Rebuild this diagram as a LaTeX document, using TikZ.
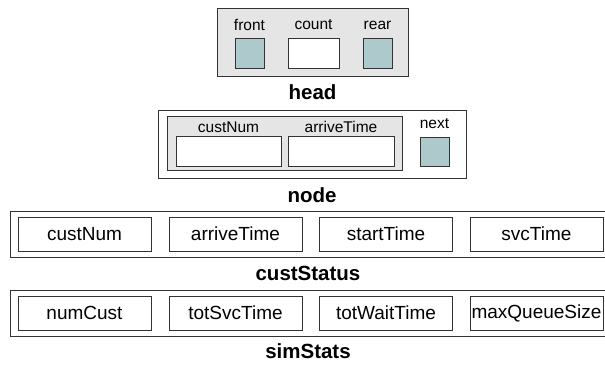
\documentclass[tikz,border=0pt]{standalone}
\usepackage{fontspec}
\setmainfont{Liberation Sans}
\usepackage{xcolor}
\usepackage{tikz}
\usetikzlibrary{positioning}

\definecolor{panelgray}{HTML}{E5E5E5}
\definecolor{ptrfill}{HTML}{ADC9CB}
\definecolor{edgegray}{HTML}{333333}

\begin{document}
\begin{tikzpicture}[
    x=1pt, y=-1pt,
    font=\fontsize{15.5}{17}\selectfont,
    field/.style={draw=edgegray, line width=1pt, inner sep=0pt, minimum width=#1, minimum height=30pt, fill=white},
    ptr/.style={field=29pt, fill=ptrfill},
    panel/.style={draw=edgegray, line width=1pt, inner sep=0pt, fill=#1},
    cell/.style={draw=edgegray, line width=1pt, inner sep=0pt, minimum width=133pt, minimum height=34pt, font=\fontsize{19}{21}\selectfont},
    lbl/.style={inner sep=0pt},
    title/.style={inner sep=0pt, font=\fontsize{20.5}{22}\selectfont\bfseries}
  ]
  \useasboundingbox (0,0) rectangle (605,365);
  % head
  \node[panel=panelgray, minimum width=191pt, minimum height=68pt] (head) at (312.5,42) {};
  \node[ptr] (front) at (249.5,53) {};
  \node[field=51pt] (count) at (313.5,53) {};
  \node[ptr] (rear) at (377.5,53) {};
  \node[lbl] (frontlbl) at (249.5,25) {front};
  \node[lbl] (countlbl) at (313.5,25) {count};
  \node[lbl] (rearlbl) at (377.5,25) {rear};
  \node[title] (headname) at (312.5,92) {head};
  % node
  \node[panel=white, minimum width=308pt, minimum height=68pt] (qnode) at (312,144) {};
  \node[panel=panelgray, minimum width=235pt, minimum height=54pt] (item) at (284.5,143) {};
  \node[field=105pt] (ncust) at (228.5,151) {};
  \node[field=106pt] (narrive) at (341,151) {};
  \node[ptr, minimum height=29pt] (next) at (434.5,151.5) {};
  \node[lbl] (ncustlbl) at (228.5,127) {custNum};
  \node[lbl] (narrivelbl) at (341,127) {arriveTime};
  \node[lbl] (nextlbl) at (434.5,124) {next};
  \node[title] (nodename) at (312,195) {node};
  % custStatus
  \node[panel=white, minimum width=602pt, minimum height=46pt] (status) at (311,234) {};
  \node[cell] (cust) at (84.5,234) {custNum};
  \node[cell] (arrive) at (235.5,234) {arriveTime};
  \node[cell] (start) at (386,234) {startTime};
  \node[cell] (svc) at (536.5,234) {svcTime};
  \node[title] (statusname) at (308,273) {custStatus};
  % simStats
  \node[panel=white, minimum width=602pt, minimum height=46pt] (stats) at (311,313) {};
  \node[cell] (num) at (84.5,313) {numCust};
  \node[cell] (totsvc) at (235.5,313) {totSvcTime};
  \node[cell] (totwait) at (386,313) {totWaitTime};
  \node[cell] (maxq) at (536.5,313) {maxQueueSize};
  \node[title] (statsname) at (308,351) {simStats};
\end{tikzpicture}
\end{document}
